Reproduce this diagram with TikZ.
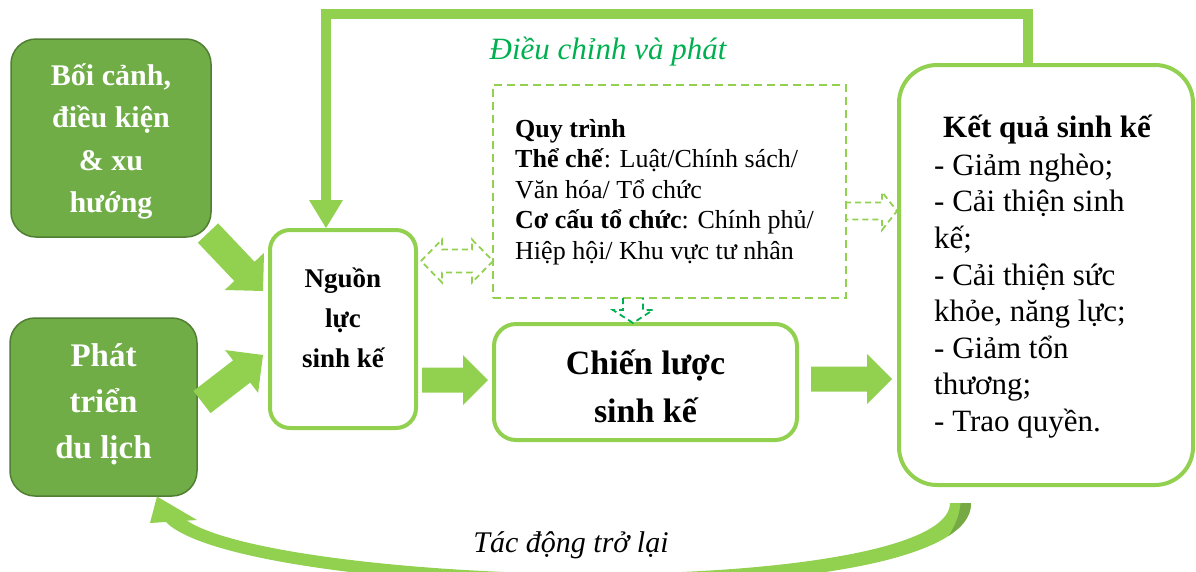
\documentclass[tikz,border=0pt]{standalone}
\usepackage{fontspec}
\setmainfont{Liberation Serif}
\usetikzlibrary{calc}
\definecolor{lg}{HTML}{92D050}
\definecolor{mg}{HTML}{70AD47}
\definecolor{dg}{HTML}{507E32}
\definecolor{tg}{HTML}{00B050}
\definecolor{sg}{HTML}{76A844}
\newcommand\fsz[2]{\fontsize{#1}{#2}\selectfont}
% style, from, to, half shaft, half head, head length
\newcommand\blockarr[6]{%
  \coordinate (bahead) at ($(#3)!#6!(#2)$);
  \fill[#1] ($(#2)!#4!90:(#3)$) -- ($(bahead)!#4!90:(#3)$) -- ($(bahead)!#5!90:(#3)$) -- (#3)
    -- ($(bahead)!#5!-90:(#3)$) -- ($(bahead)!#4!-90:(#3)$) -- ($(#2)!#4!-90:(#3)$) -- cycle;}
\newcommand\bandpath{(165,521) .. controls (200,560) and (400,586) .. (600,586)
  .. controls (800,586) and (972,560) .. (971,503) -- (950,503)
  .. controls (950,548) and (790,573) .. (600,574)
  .. controls (420,574) and (232,552) .. (186,520) -- cycle}
\begin{document}
\begin{tikzpicture}[x=1pt,y=-1pt,
  lbox/.style={draw=dg, line width=1.5pt, fill=mg, rounded corners=25pt, inner sep=0pt},
  wbox/.style={draw=lg, line width=4pt, rounded corners=20pt, inner sep=0pt, fill=white},
  dbox/.style={draw=lg, line width=2pt, dash pattern=on 8pt off 5pt, inner sep=0pt},
  darr/.style={draw=lg, line width=1.8pt, dash pattern=on 6pt off 4pt, line join=miter},
  txt/.style={inner sep=0pt, align=center},
  wtxt/.style={txt, text=white, font=\bfseries},
  barrow/.style={fill=lg}]
\useasboundingbox (0,0) rectangle (1196,571);
\clip (0,0) rectangle (1196,571);

% boxes
\node[lbox, minimum width=200, minimum height=198] (ctx) at (111,138) {};
\node[lbox, minimum width=187, minimum height=178] (tour) at (103.5,407) {};
\node[wbox, minimum width=146, minimum height=198] (nguon) at (343,329) {};
\node[wbox, minimum width=303, minimum height=116, rounded corners=22pt] (chien) at (645.5,382) {};
\node[dbox, minimum width=353, minimum height=213] (proc) at (669.5,191.5) {};
\node[wbox, minimum width=294, minimum height=420, rounded corners=38pt] (kq) at (1046,275) {};

% texts
\node[wtxt, font=\fsz{30}{42.3}\bfseries] (tctx) at (111,141.5) {Bối cảnh,\\điều kiện\\\& xu\\hướng};
\node[wtxt, font=\fsz{33}{46}\bfseries] (ttour) at (103.5,404) {Phát\\triển\\du lịch};
\node[txt, font=\fsz{27}{40}\bfseries] (tnguon) at (343,318) {Nguồn\\lực\\sinh kế};
\node[txt, font=\fsz{34}{48}\bfseries] (tchien) at (645.5,386) {Chiến lược\\sinh kế};
\node[txt, align=left, anchor=west, font=\fsz{26}{30.5}] (tproc) at (515,192)
  {\textbf{Quy trình}\\\textbf{Thể chế}: Luật/Chính sách/\\Văn hóa/ Tổ chức\\\textbf{Cơ cấu tổ chức}: Chính phủ/\\Hiệp hội/ Khu vực tư nhân};
\node[txt, font=\fsz{31}{36}\bfseries] (tkq) at (1047,130) {Kết quả sinh kế};
\node[txt, align=left, anchor=west, font=\fsz{31}{36.6}] (tkql) at (934,296)
  {- Giảm nghèo;\\- Cải thiện sinh\\kế;\\- Cải thiện sức\\khỏe, năng lực;\\- Giảm tổn\\thương;\\- Trao quyền.};
\node[txt, text=tg, font=\fsz{31}{36}\itshape] (tadj) at (608,52) {Điều chỉnh và phát};
\node[txt, font=\fsz{30}{36}\itshape] (tback) at (571,545) {Tác động trở lại};

% block arrows
\coordinate (a1s) at (208,233); \coordinate (a1e) at (263,291);
\coordinate (a2s) at (202,402);     \coordinate (a2e) at (263,355);
\coordinate (a3s) at (422,380);     \coordinate (a3e) at (488,380);
\coordinate (a4s) at (811,379);     \coordinate (a4e) at (892,379);
\blockarr{barrow}{a1s}{a1e}{14pt}{27pt}{27pt}
\blockarr{barrow}{a2s}{a2e}{14pt}{27pt}{27pt}
\blockarr{barrow}{a3s}{a3e}{12.5pt}{25pt}{25pt}
\blockarr{barrow}{a4s}{a4e}{12.5pt}{25pt}{25pt}

% top feedback loop
\coordinate (loopR) at (1028,14);
\coordinate (loopL) at (326,14);
\draw[lg, line width=10pt] (kq.north -| loopR) -- (loopR) -- (loopL) -- ($(nguon.north -| loopL)+(0,-27)$);
\fill[lg] (nguon.north -| loopL) -- ++(-17,-28) -- ++(34,0) -- cycle;

% dashed arrows
\draw[darr] (421,261) -- (442,239.5) -- (442,249.5) -- (472,249.5) -- (472,239.5) -- (493,261)
  -- (472,282.5) -- (472,272.5) -- (442,272.5) -- (442,282.5) -- cycle;
\draw[darr] (845,202.5) -- (882,202.5) -- (882,192) -- (897,211) -- (882,230) -- (882,219.5) -- (845,219.5);
\draw[darr, draw=tg] (623,298) -- (623,310) -- (613,310) -- (633,323) -- (653,310) -- (643,310) -- (643,298);

% bottom feedback arrow
\fill[lg] \bandpath;
\begin{scope}
  \clip \bandpath;
  \fill[sg] (961,495) -- (985,495) -- (985,600) -- (880,600)
    .. controls (940,555) and (961,530) .. (961,495) -- cycle;
\end{scope}
\fill[lg] (150,523) -- (157,496.5) -- (197,520) -- cycle;
\end{tikzpicture}
\end{document}
